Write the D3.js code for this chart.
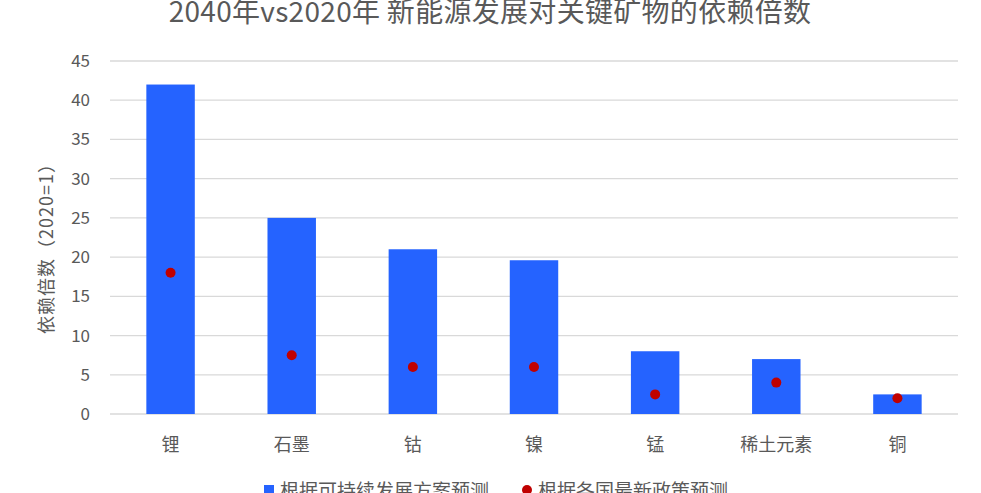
<!DOCTYPE html><html><head><meta charset="utf-8"><script src="https://cdn.jsdelivr.net/npm/d3@7"></script>
<style>body{margin:0;background:#fff}text{font-family:"Noto Sans CJK SC","Open Sans",sans-serif}</style></head><body><svg id="c" width="981" height="493"></svg>
<script>
const categories=["锂","石墨","钴","镍","锰","稀土元素","铜"];
const sdsValues=[42,25,21,19.6,8,7,2.5];
const stepsValues=[18,7.5,6,6,2.5,4,2];
const yTicks=[0,5,10,15,20,25,30,35,40,45];
const seriesNames=["根据可持续发展方案预测","根据各国最新政策预测"];
const svg=d3.select("#c");
const x=d3.scaleBand().domain(categories).range([110,958]).paddingInner(0.6).paddingOuter(0.3);
const y=d3.scaleLinear().domain([0,45]).range([414,61]);
svg.append("g").selectAll("line").data(yTicks).join("line").attr("x1",110).attr("x2",958).attr("y1",d=>y(d)).attr("y2",d=>y(d)).attr("stroke","#d9d9d9").attr("stroke-width",1.3);
svg.append("g").selectAll("text").data(yTicks).join("text").attr("x",90).attr("y",d=>y(d)+6).attr("text-anchor","end").attr("font-size",17).attr("fill","#595959").text(d=>d);
svg.append("g").selectAll("rect").data(sdsValues).join("rect").attr("x",(d,i)=>x(categories[i])).attr("width",x.bandwidth()).attr("y",d=>y(d)).attr("height",d=>y(0)-y(d)).attr("fill","#2563ff");
svg.append("g").selectAll("circle").data(stepsValues).join("circle").attr("cx",(d,i)=>x(categories[i])+x.bandwidth()/2).attr("cy",d=>y(d)).attr("r",5).attr("fill","#c00000");
svg.append("g").selectAll("text").data(categories).join("text").attr("x",d=>x(d)+x.bandwidth()/2).attr("y",451).attr("text-anchor","middle").attr("font-size",18).attr("fill","#595959").text(d=>d);
svg.append("text").attr("transform","translate(53,244) rotate(-90)").attr("text-anchor","middle").attr("font-size",18).attr("letter-spacing",1).attr("fill","#595959").text("依赖倍数（2020=1）");
svg.append("text").attr("x",490).attr("y",22).attr("text-anchor","middle").attr("font-size",28).attr("letter-spacing",0.3).attr("fill","#595959").text("2040年vs2020年 新能源发展对关键矿物的依赖倍数");
const lg=svg.append("g");
lg.append("rect").attr("x",264).attr("y",485).attr("width",10).attr("height",10).attr("fill","#2563ff");
lg.append("text").attr("x",280).attr("y",498).attr("font-size",19).attr("fill","#595959").text(seriesNames[0]);
lg.append("circle").attr("cx",527).attr("cy",490).attr("r",5).attr("fill","#c00000");
lg.append("text").attr("x",538).attr("y",498).attr("font-size",19).attr("fill","#595959").text(seriesNames[1]);
</script></body></html>
